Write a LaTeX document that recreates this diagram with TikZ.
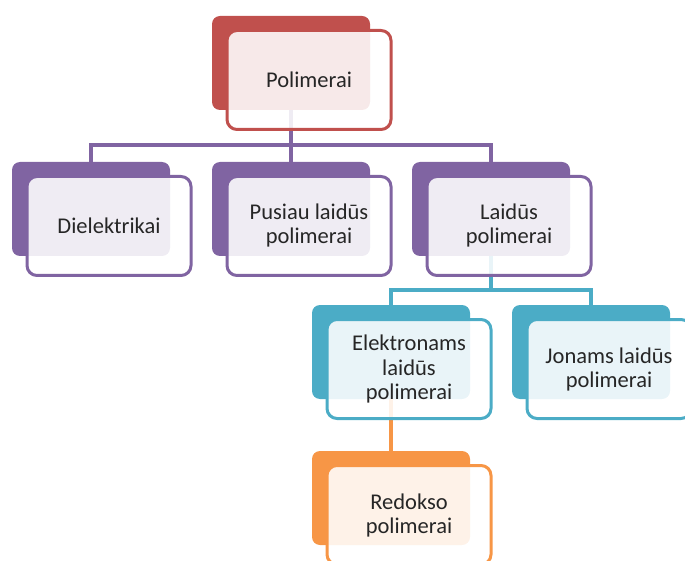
\documentclass[tikz,border=0pt]{standalone}
\usepackage{fontspec}
\setmainfont{Carlito}
\usetikzlibrary{positioning}
\definecolor{redbox}{HTML}{C0504D}
\definecolor{purplebox}{HTML}{8064A2}
\definecolor{tealbox}{HTML}{4BACC6}
\definecolor{orangebox}{HTML}{F79646}
\begin{document}
\begin{tikzpicture}[x=1pt,y=-1pt,
  back/.style={rounded corners=8pt,minimum width=158pt,minimum height=94pt,fill=#1},
  front/.style={rounded corners=10pt,minimum width=164pt,minimum height=99pt,draw=#1,line width=3pt,
    fill=white,fill opacity=.88,text opacity=1,text=black!85,align=center,font=\fontsize{22.5}{24}\selectfont},
  link/.style={draw=#1,line width=3.5pt}]
\useasboundingbox (0,0) rectangle (685,561);
% back boxes
\node[back=redbox] (polB) at (291,63) {};
\foreach \n/\x in {dieB/91,pusB/291,laiB/491} \node[back=purplebox] (\n) at (\x,209) {};
\node[back=tealbox] (eleB) at (391,352) {};
\node[back=tealbox] (jonB) at (591,352) {};
\node[back=orangebox] (redB) at (391,498) {};
% connectors
\coordinate (j1) at (291,145);
\coordinate (j2) at (491,290);
\draw[link=purplebox] (polB.south) -- (j1) -| (dieB.north) (j1) -| (laiB.north) (j1) -- (pusB.north);
\draw[link=tealbox] (laiB.south) -- (j2) -| (eleB.north) (j2) -| (jonB.north);
\draw[link=orangebox] (eleB.south) -- (redB.north);
% front boxes
\node[front=redbox,shift={(18,17)}] (pol) at (polB) {Polimerai};
\node[front=purplebox,shift={(18,17)}] (die) at (dieB) {Dielektrikai};
\node[front=purplebox,shift={(18,17)}] (pus) at (pusB) {Pusiau laidūs\\polimerai};
\node[front=purplebox,shift={(18,17)}] (lai) at (laiB) {Laidūs\\polimerai};
\node[front=tealbox,shift={(18,17)}] (ele) at (eleB) {Elektronams\\laidūs\\polimerai};
\node[front=tealbox,shift={(18,17)}] (jon) at (jonB) {Jonams laidūs\\polimerai};
\node[front=orangebox,shift={(18,17)}] (red) at (redB) {Redokso\\polimerai};
\end{tikzpicture}
\end{document}
